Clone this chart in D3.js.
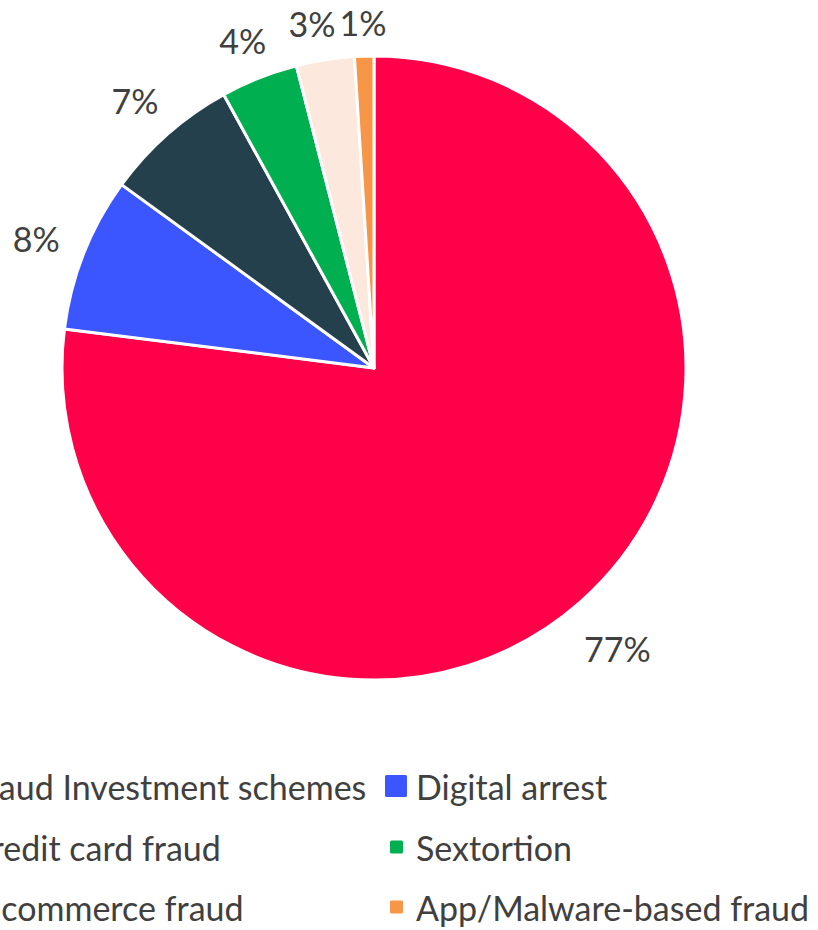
<!DOCTYPE html>
<html>
<head>
<meta charset="utf-8">
<script src="https://cdn.jsdelivr.net/npm/d3@7/dist/d3.min.js"></script>
<style>
  html, body { margin: 0; padding: 0; background: #fff; overflow: hidden; }
  svg { display: block; }
  text { font-family: Lato, "Open Sans", sans-serif; fill: #404040; }
</style>
</head>
<body>
<svg id="chart" width="818" height="930"></svg>
<script>
// Share of reported cyber-fraud cases by type (percent)
const categories = [
  "Fraud Investment schemes",
  "Digital arrest",
  "Credit card fraud",
  "Sextortion",
  "E-commerce fraud",
  "App/Malware-based fraud"
];
const shares = [77, 8, 7, 4, 3, 1];
const colors = ["#FF0049", "#3B55FF", "#25404D", "#00B050", "#FCE8DC", "#F79646"];

const svg = d3.select("#chart");
const cx = 374, cy = 368, r = 312;
const fontSize = 34;

const data = categories.map((c, i) => ({ name: c, value: shares[i], color: colors[i] }));

const pie = d3.pie().value(d => d.value).sort(null);
const arcs = pie(data);
const arc = d3.arc().innerRadius(0).outerRadius(r);

const g = svg.append("g").attr("transform", `translate(${cx},${cy})`);

g.selectAll("path.slice")
  .data(arcs)
  .join("path")
  .attr("class", "slice")
  .attr("d", arc)
  .attr("fill", d => d.data.color)
  .attr("stroke", "#fff")
  .attr("stroke-width", 3)
  .attr("stroke-linejoin", "round");

// Percentage labels just outside the rim
const labels = g.selectAll("text.pct")
  .data(arcs)
  .join("text")
  .attr("class", "pct")
  .attr("text-anchor", "middle")
  .attr("dominant-baseline", "central")
  .style("font-size", fontSize + "px")
  .text(d => d.data.value + "%");

const pos = [];
labels.each(function (d) {
  const w = this.getComputedTextLength();
  const a = (d.startAngle + d.endAngle) / 2;
  const ux = Math.sin(a), uy = -Math.cos(a);
  const dist = r * 1.08 + Math.abs(ux) * w / 2 + Math.abs(uy) * 12;
  pos.push({ x: ux * dist, y: uy * dist + 4, w });
});
// Push crowded neighbouring labels apart horizontally (walk back from the last slice)
for (let i = pos.length - 2; i >= 1; i--) {
  const a = pos[i], b = pos[i + 1];
  if (Math.abs(a.y - b.y) < fontSize) {
    const minGap = (a.w + b.w) / 2 + 4;
    if (b.x - a.x < minGap) a.x = b.x - minGap;
  }
}
labels.attr("transform", (d, i) => `translate(${pos[i].x},${pos[i].y})`);

// Legend: two columns, three rows
const colX = [-62, 385];
const rowY = [786, 847, 907];
const legend = svg.append("g");
data.forEach((d, i) => {
  const col = i % 2, row = Math.floor(i / 2);
  const x = colX[col], y = rowY[row];
  const size = i === 1 ? 22 : 13;
  const off = i === 1 ? 0 : 5;
  legend.append("rect")
    .attr("x", x + off)
    .attr("y", y - size / 2)
    .attr("width", size)
    .attr("height", size)
    .attr("rx", 1.5)
    .attr("fill", d.color);
  legend.append("text")
    .attr("x", x + 31)
    .attr("y", y)
    .attr("dominant-baseline", "central")
    .style("font-size", fontSize + "px")
    .text(d.name);
});
</script>
</body>
</html>
